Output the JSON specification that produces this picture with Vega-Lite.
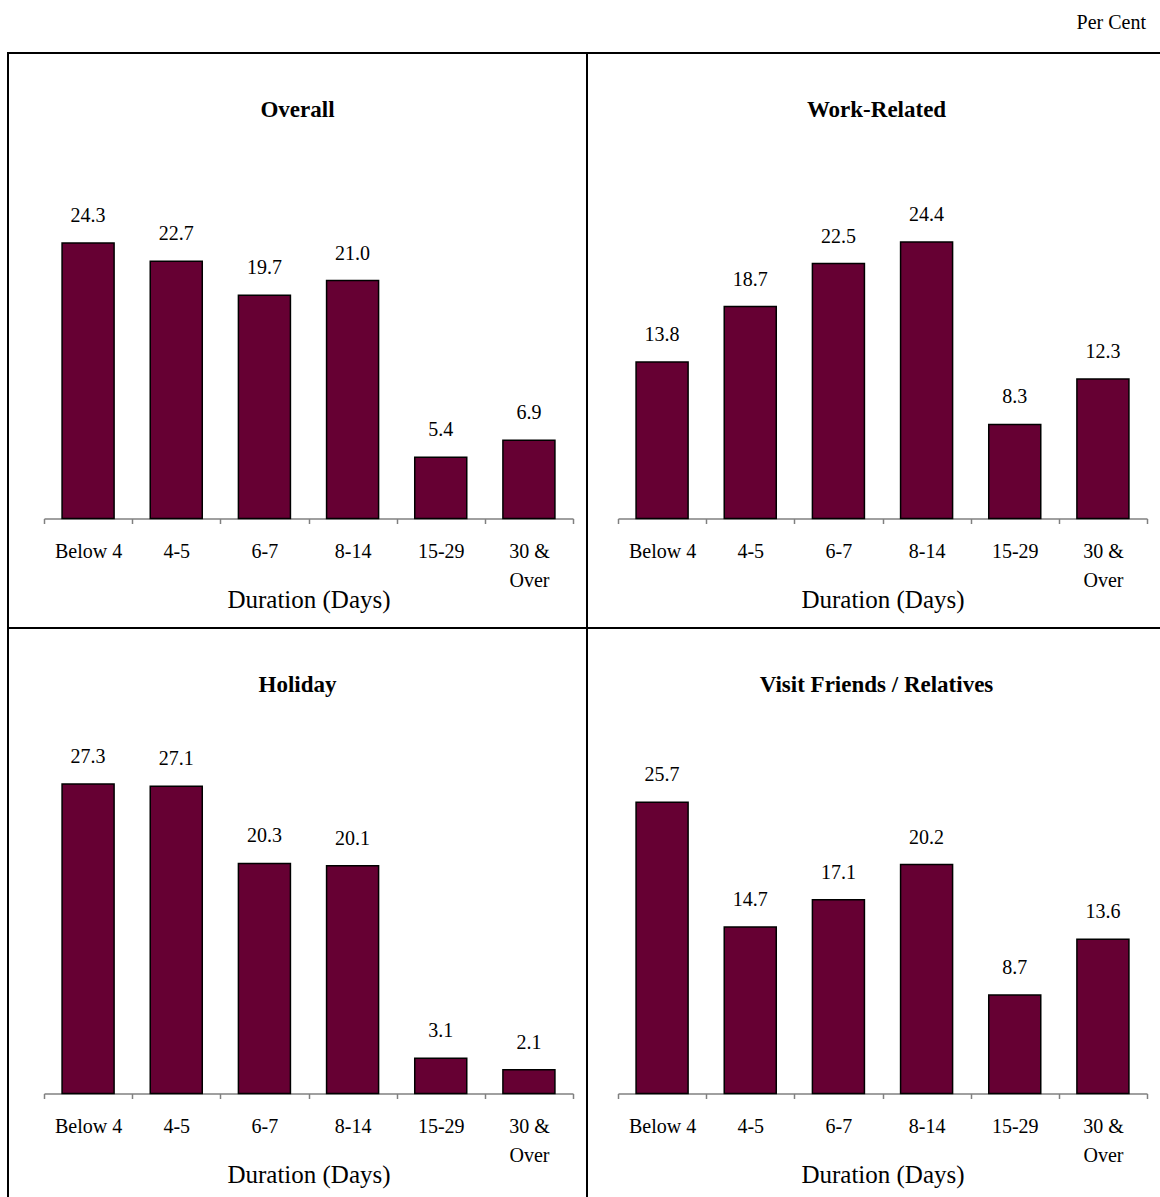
{
  "$schema": "https://vega.github.io/schema/vega-lite/v6.json",
  "padding": {"left": 7, "top": 0, "right": 0, "bottom": 0},
  "background": "white",
  "data": {
    "values": [
      {"panel": "Overall", "duration": "Below 4", "value": 24.3},
      {"panel": "Overall", "duration": "4-5", "value": 22.7},
      {"panel": "Overall", "duration": "6-7", "value": 19.7},
      {"panel": "Overall", "duration": "8-14", "value": 21.0},
      {"panel": "Overall", "duration": "15-29", "value": 5.4},
      {"panel": "Overall", "duration": "30 & Over", "value": 6.9},
      {"panel": "Work-Related", "duration": "Below 4", "value": 13.8},
      {"panel": "Work-Related", "duration": "4-5", "value": 18.7},
      {"panel": "Work-Related", "duration": "6-7", "value": 22.5},
      {"panel": "Work-Related", "duration": "8-14", "value": 24.4},
      {"panel": "Work-Related", "duration": "15-29", "value": 8.3},
      {"panel": "Work-Related", "duration": "30 & Over", "value": 12.3},
      {"panel": "Holiday", "duration": "Below 4", "value": 27.3},
      {"panel": "Holiday", "duration": "4-5", "value": 27.1},
      {"panel": "Holiday", "duration": "6-7", "value": 20.3},
      {"panel": "Holiday", "duration": "8-14", "value": 20.1},
      {"panel": "Holiday", "duration": "15-29", "value": 3.1},
      {"panel": "Holiday", "duration": "30 & Over", "value": 2.1},
      {"panel": "Visit Friends / Relatives", "duration": "Below 4", "value": 25.7},
      {"panel": "Visit Friends / Relatives", "duration": "4-5", "value": 14.7},
      {"panel": "Visit Friends / Relatives", "duration": "6-7", "value": 17.1},
      {"panel": "Visit Friends / Relatives", "duration": "8-14", "value": 20.2},
      {"panel": "Visit Friends / Relatives", "duration": "15-29", "value": 8.7},
      {"panel": "Visit Friends / Relatives", "duration": "30 & Over", "value": 13.6}
    ]
  },
  "spacing": 18,
  "bounds": "flush",
  "vconcat": [
    {
      "width": 1158, "height": 35,
      "view": {"stroke": null},
      "title": {
        "text": "Per Cent",
        "anchor": "end",
        "frame": "group",
        "fontSize": 20,
        "fontWeight": "normal",
        "baseline": "middle",
        "offset": -43,
        "dx": -20
      },
      "data": {"values": []},
      "mark": "text",
      "encoding": {}
    },
    {
      "columns": 2,
      "spacing": 0,
      "bounds": "flush",
      "concat": [
        {
          "width": 579, "height": 575,
          "title": {"text": "Overall"},
          "transform": [{"filter": "datum.panel === 'Overall'"}],
          "encoding": {
            "x": {"field": "duration", "type": "nominal", "sort": ["Below 4", "4-5", "6-7", "8-14", "15-29", "30 & Over"],
                  "scale": {"range": [36, 565], "paddingInner": 0, "paddingOuter": 0},
                  "axis": {"title": "Duration (Days)"}},
            "y": {"field": "value", "type": "quantitative", "scale": {"domain": [0, 30], "range": [465.5, 125.5]}, "axis": null}
          },
          "layer": [
            {"mark": {"type": "bar", "width": {"band": 0.59}, "fill": "#660033", "stroke": "black", "strokeWidth": 1.5}},
            {"mark": {"type": "text", "baseline": "middle", "dy": -27, "fontSize": 20, "color": "black"},
             "encoding": {"text": {"field": "value", "type": "quantitative", "format": ".1f"}}}
          ]
        },
        {
          "width": 579, "height": 575,
          "title": {"text": "Work-Related"},
          "transform": [{"filter": "datum.panel === 'Work-Related'"}],
          "encoding": {
            "x": {"field": "duration", "type": "nominal", "sort": ["Below 4", "4-5", "6-7", "8-14", "15-29", "30 & Over"],
                  "scale": {"range": [31, 560], "paddingInner": 0, "paddingOuter": 0},
                  "axis": {"title": "Duration (Days)"}},
            "y": {"field": "value", "type": "quantitative", "scale": {"domain": [0, 30], "range": [465.5, 125.5]}, "axis": null}
          },
          "layer": [
            {"mark": {"type": "bar", "width": {"band": 0.59}, "fill": "#660033", "stroke": "black", "strokeWidth": 1.5}},
            {"mark": {"type": "text", "baseline": "middle", "dy": -27, "fontSize": 20, "color": "black"},
             "encoding": {"text": {"field": "value", "type": "quantitative", "format": ".1f"}}}
          ]
        },
        {
          "width": 579, "height": 575,
          "title": {"text": "Holiday"},
          "transform": [{"filter": "datum.panel === 'Holiday'"}],
          "encoding": {
            "x": {"field": "duration", "type": "nominal", "sort": ["Below 4", "4-5", "6-7", "8-14", "15-29", "30 & Over"],
                  "scale": {"range": [36, 565], "paddingInner": 0, "paddingOuter": 0},
                  "axis": {"title": "Duration (Days)"}},
            "y": {"field": "value", "type": "quantitative", "scale": {"domain": [0, 30], "range": [465.5, 125.5]}, "axis": null}
          },
          "layer": [
            {"mark": {"type": "bar", "width": {"band": 0.59}, "fill": "#660033", "stroke": "black", "strokeWidth": 1.5}},
            {"mark": {"type": "text", "baseline": "middle", "dy": -27, "fontSize": 20, "color": "black"},
             "encoding": {"text": {"field": "value", "type": "quantitative", "format": ".1f"}}}
          ]
        },
        {
          "width": 579, "height": 575,
          "title": {"text": "Visit Friends / Relatives"},
          "transform": [{"filter": "datum.panel === 'Visit Friends / Relatives'"}],
          "encoding": {
            "x": {"field": "duration", "type": "nominal", "sort": ["Below 4", "4-5", "6-7", "8-14", "15-29", "30 & Over"],
                  "scale": {"range": [31, 560], "paddingInner": 0, "paddingOuter": 0},
                  "axis": {"title": "Duration (Days)"}},
            "y": {"field": "value", "type": "quantitative", "scale": {"domain": [0, 30], "range": [465.5, 125.5]}, "axis": null}
          },
          "layer": [
            {"mark": {"type": "bar", "width": {"band": 0.59}, "fill": "#660033", "stroke": "black", "strokeWidth": 1.5}},
            {"mark": {"type": "text", "baseline": "middle", "dy": -27, "fontSize": 20, "color": "black"},
             "encoding": {"text": {"field": "value", "type": "quantitative", "format": ".1f"}}}
          ]
        }
      ]
    }
  ],
  "config": {
    "font": "Liberation Serif",
    "view": {"stroke": "black", "strokeWidth": 2},
    "title": {
      "font": "Liberation Serif",
      "fontSize": 23,
      "fontWeight": "bold",
      "color": "black",
      "anchor": "middle",
      "frame": "group",
      "baseline": "middle",
      "offset": -69
    },
    "axisX": {
      "orient": "bottom",
      "offset": -109.5,
      "tickBand": "extent",
      "grid": false,
      "domainColor": "#808080",
      "domainWidth": 1.5,
      "tickColor": "#808080",
      "tickWidth": 1.5,
      "tickSize": 5,
      "labelAngle": 0,
      "labelFont": "Liberation Serif",
      "labelFontSize": 20,
      "labelColor": "black",
      "labelBaseline": "top",
      "labelPadding": 18,
      "labelLineHeight": 29,
      "labelOverlap": false,
      "labelExpr": "datum.value === '30 & Over' ? ['30 &', 'Over'] : datum.value",
      "titleFont": "Liberation Serif",
      "titleFontSize": 25,
      "titleFontWeight": "normal",
      "titleColor": "black",
      "titleBaseline": "middle",
      "titleY": 81
    }
  }
}
